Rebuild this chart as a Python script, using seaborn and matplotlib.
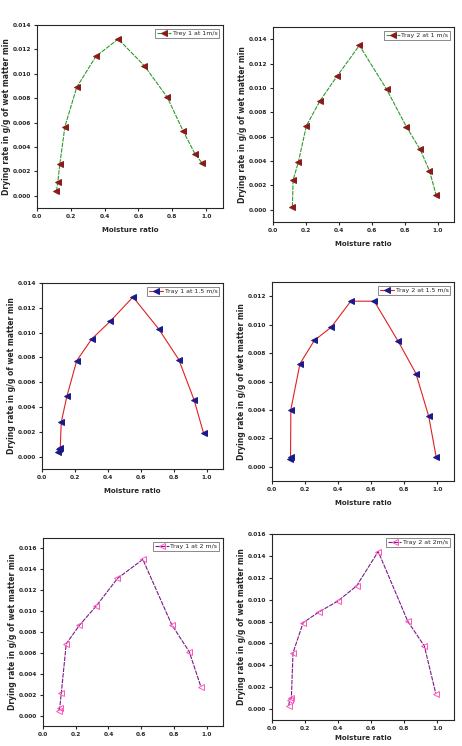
import matplotlib
matplotlib.use("Agg")
import matplotlib.pyplot as plt
import seaborn as sns

# moisture ratio / drying rate
t1_1ms_x = [0.115, 0.123, 0.135, 0.165, 0.235, 0.348, 0.48, 0.635, 0.77, 0.865, 0.935, 0.975]
t1_1ms_y = [0.00038, 0.00112, 0.0026, 0.00567, 0.0089, 0.01142, 0.01285, 0.01066, 0.00808, 0.00529, 0.00342, 0.00271]

t2_1ms_x = [0.118, 0.122, 0.154, 0.203, 0.286, 0.391, 0.525, 0.69, 0.811, 0.894, 0.951, 0.992]
t2_1ms_y = [0.00027, 0.00243, 0.00391, 0.0069, 0.00895, 0.0110, 0.01349, 0.0099, 0.00681, 0.00495, 0.0032, 0.00118]

t1_15ms_x = [0.100, 0.105, 0.111, 0.117, 0.151, 0.211, 0.302, 0.416, 0.553, 0.71, 0.831, 0.924, 0.982]
t1_15ms_y = [0.0004, 0.0006, 0.0007, 0.00277, 0.00485, 0.00773, 0.00948, 0.01093, 0.01287, 0.01028, 0.00783, 0.00458, 0.00188]

t2_15ms_x = [0.108, 0.112, 0.114, 0.169, 0.256, 0.358, 0.476, 0.618, 0.762, 0.87, 0.947, 0.992]
t2_15ms_y = [0.00052, 0.0007, 0.00403, 0.00725, 0.00889, 0.00982, 0.01165, 0.01165, 0.00884, 0.00656, 0.00356, 0.0007]

t1_2ms_x = [0.096, 0.102, 0.112, 0.142, 0.222, 0.325, 0.455, 0.61, 0.787, 0.894, 0.965]
t1_2ms_y = [0.00048, 0.00073, 0.00217, 0.00687, 0.00863, 0.01048, 0.01313, 0.01495, 0.00869, 0.0061, 0.00275]

t2_2ms_x = [0.101, 0.107, 0.117, 0.127, 0.188, 0.283, 0.396, 0.511, 0.642, 0.82, 0.921, 0.99]
t2_2ms_y = [0.0003, 0.00086, 0.001, 0.00514, 0.00789, 0.00887, 0.00985, 0.01125, 0.0144, 0.00804, 0.00575, 0.00141]

labels = ["Trey 1 at 1m/s", "Tray 2 at 1 m/s", "Tray 1 at 1.5 m/s",
          "Tray 2 at 1.5 m/s", "Tray 1 at 2 m/s", "Tray 2 at 2m/s"]

W, H = 462, 746
# axes boxes in pixels: left, top, right, bottom
boxes = [(37, 25, 223, 208), (273, 27, 454, 222),
         (42, 283, 223, 469), (272, 282, 454, 481),
         (43, 538, 223, 726), (272, 534, 454, 720)]
ylims = [(-0.001, 0.014), (-0.001, 0.015), (-0.001, 0.014),
         (-0.001, 0.013), (-0.001, 0.017), (-0.001, 0.016)]
yticks = [0.014, 0.014, 0.014, 0.012, 0.016, 0.016]
xlabel_pad = [6, 6, 6, 6, 6, 3]

series = [(t1_1ms_x, t1_1ms_y), (t2_1ms_x, t2_1ms_y),
          (t1_15ms_x, t1_15ms_y), (t2_15ms_x, t2_15ms_y),
          (t1_2ms_x, t1_2ms_y), (t2_2ms_x, t2_2ms_y)]
styles = [
    dict(color="#2e9a2e", ls=(0, (4, 1)), mfc="#8b1a1a", mec="#8b1a1a"),
    dict(color="#2e9a2e", ls=(0, (4, 1)), mfc="#8b1a1a", mec="#8b1a1a"),
    dict(color="#e02020", ls="-", mfc="#1a1a8b", mec="#1a1a8b"),
    dict(color="#e02020", ls="-", mfc="#1a1a8b", mec="#1a1a8b"),
    dict(color="#7a1a8a", ls=(0, (4, 1)), mfc="none", mec="#ff55bb"),
    dict(color="#7a1a8a", ls=(0, (4, 1)), mfc="none", mec="#ff55bb"),
]

sns.set_style("ticks")
plt.rcParams["font.family"] = ["DejaVu Sans"]

fig = plt.figure(figsize=(W / 100, H / 100), dpi=100)

for i, ((x, y), st) in enumerate(zip(series, styles)):
    l, t, r, b = boxes[i]
    ax = fig.add_axes([l / W, 1 - b / H, (r - l) / W, (b - t) / H])
    sns.lineplot(x=x, y=y, ax=ax, sort=False, estimator=None,
                 color=st["color"], linestyle=st["ls"], linewidth=0.8,
                 marker="<", markersize=4, markerfacecolor=st["mfc"],
                 markeredgecolor=st["mec"], markeredgewidth=0.7,
                 label=labels[i])
    ax.set_xlim(0, 1.1)
    ax.set_ylim(*ylims[i])
    ax.set_xticks([0.0, 0.2, 0.4, 0.6, 0.8, 1.0])
    ax.set_xticklabels(["0.0", "0.2", "0.4", "0.6", "0.8", "1.0"])
    yt = [k * 0.002 for k in range(int(round(yticks[i] / 0.002)) + 1)]
    ax.set_yticks(yt)
    ax.set_yticklabels([f"{v:.3f}" for v in yt])
    ax.tick_params(labelsize=4.2, width=0.8, length=2.5, pad=1.5)
    for lab in ax.get_xticklabels() + ax.get_yticklabels():
        lab.set_fontweight("bold")
    for sp in ax.spines.values():
        sp.set_linewidth(0.8)
        sp.set_visible(True)
    ax.tick_params(top=False, right=False)
    # bottom-left panel's x label falls off the page in the original
    if i != 4:
        ax.set_xlabel("Moisture ratio", fontsize=5, fontweight="bold",
                      labelpad=xlabel_pad[i])
    ax.set_ylabel("Drying rate in g/g of wet matter min", fontsize=5.5,
                  fontweight="bold", labelpad=1.5)
    leg = ax.legend(loc="upper right", fontsize=4.5, frameon=True, fancybox=False,
                    handlelength=2.2, borderpad=0.3, borderaxespad=0.6,
                    handletextpad=0.3)
    leg.get_frame().set_edgecolor("#555555")
    leg.get_frame().set_linewidth(0.6)

fig.savefig("out.png", dpi=100)
